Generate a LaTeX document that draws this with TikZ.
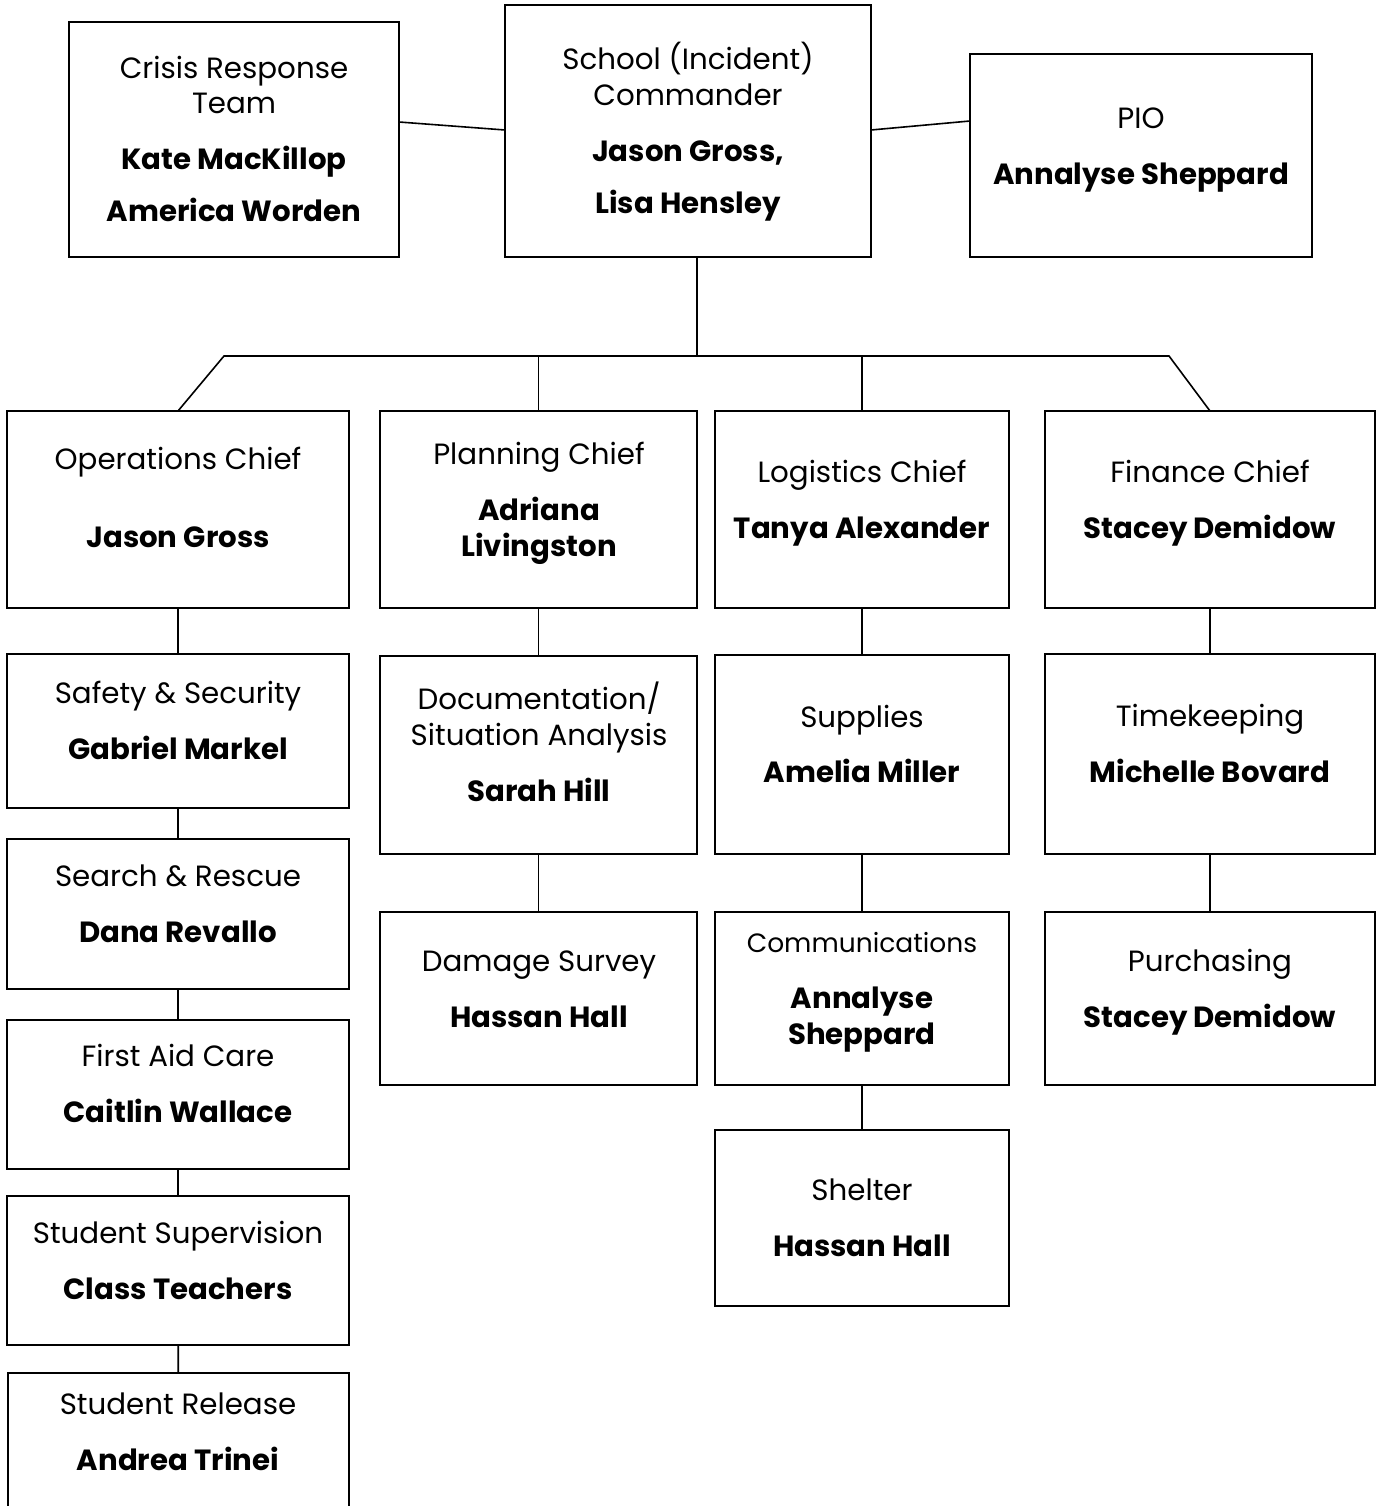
\documentclass[tikz,border=0pt]{standalone}
\usepackage{fontspec}
\setmainfont{Poppins}
\begin{document}
\begin{tikzpicture}[x=1pt,y=1pt,
  box/.style={draw=black, line width=2pt, rectangle, inner sep=0pt, outer sep=0pt, fill=white},
  conn/.style={draw=black, line width=1.6pt},
  prole/.style={anchor=base, inner sep=0pt, font=\fontsize{29.3}{34}\selectfont},
  psmall/.style={anchor=base, inner sep=0pt, font=\fontsize{26.5}{31}\selectfont},
  pname/.style={anchor=base, inner sep=0pt, font=\fontsize{29.2}{34}\selectfont\bfseries}]
\newcommand\bx[5]{\node[box, minimum width={(#4-#2)*1pt}, minimum height={(#5-#3)*1pt}] (#1) at ({(#2+#4)/2},{-(#3+#5)/2}) {};}
\newcommand\tx[5]{\node[#2] (#1) at (#3,{-(#4+10.5)}) {#5};}
\clip (0,0) rectangle (1378,-1506);
\fill[white] (0,0) rectangle (1378,-1506);
% coordinates of the bus
\coordinate (busL) at (224,-356);
\coordinate (busR) at (1169,-356);
% boxes
\bx{crisis}{69}{22}{399}{257}
\bx{cmd}{505}{5}{871}{257}
\bx{pio}{970}{54}{1312}{257}
\bx{ops}{7}{411}{349}{608}
\bx{plan}{380}{411}{697}{608}
\bx{log}{715}{411}{1009}{608}
\bx{fin}{1045}{411}{1375}{608}
\bx{safety}{7}{654}{349}{808}
\bx{search}{7}{839}{349}{989}
\bx{aid}{7}{1020}{349}{1169}
\bx{sup}{7}{1196}{349}{1345}
\bx{rel}{8}{1373}{349}{1520}
\bx{doc}{380}{656}{697}{854}
\bx{dmg}{380}{912}{697}{1085}
\bx{supp}{715}{655}{1009}{854}
\bx{comm}{715}{912}{1009}{1085}
\bx{shel}{715}{1130}{1009}{1306}
\bx{time}{1045}{654}{1375}{854}
\bx{purch}{1045}{912}{1375}{1085}
% connectors
\draw[conn] ([yshift=17.5pt]crisis.east) -- ([yshift=1pt]cmd.west);
\draw[conn] ([yshift=1pt]cmd.east) -- ([yshift=34.5pt]pio.west);
\draw[conn] ([xshift=9pt]cmd.south) -- ([xshift=9pt]cmd.south |- busL);
\draw[conn] (ops.north) -- (busL) -- (busR) -- (fin.north);
\draw[conn] (plan.north) -- (plan.north |- busL);
\draw[conn] (log.north) -- (log.north |- busL);
\draw[conn] (ops) -- (safety);
\draw[conn] (safety) -- (search);
\draw[conn] (search) -- (aid);
\draw[conn] (aid) -- (sup);
\draw[conn] (sup) -- (rel);
\draw[conn] (plan) -- (doc);
\draw[conn] (doc) -- (dmg);
\draw[conn] (log) -- (supp);
\draw[conn] (supp) -- (comm);
\draw[conn] (comm) -- (shel);
\draw[conn] (fin) -- (time);
\draw[conn] (time) -- (purch);
% texts
\tx{crisisA}{prole}{234}{68}{Crisis Response}
\tx{crisisB}{prole}{234}{103}{Team}
\tx{crisisC}{pname}{234}{159}{Kate MacKillop}
\tx{crisisD}{pname}{234}{211}{America Worden}
\tx{cmdA}{prole}{688}{59}{School (Incident)}
\tx{cmdB}{prole}{688}{95}{Commander}
\tx{cmdC}{pname}{688}{151}{Jason Gross,}
\tx{cmdD}{pname}{688}{203}{Lisa Hensley}
\tx{pioA}{prole}{1141}{118}{PIO}
\tx{pioB}{pname}{1141}{174}{Annalyse Sheppard}
\tx{opsA}{prole}{178}{459}{Operations Chief}
\tx{opsB}{pname}{178}{537}{Jason Gross}
\tx{planA}{prole}{539}{454}{Planning Chief}
\tx{planB}{pname}{539}{510}{Adriana}
\tx{planC}{pname}{539}{546}{Livingston}
\tx{logA}{prole}{862}{472}{Logistics Chief}
\tx{logB}{pname}{862}{528}{Tanya Alexander}
\tx{finA}{prole}{1210}{472}{Finance Chief}
\tx{finB}{pname}{1210}{528}{Stacey Demidow}
\tx{safetyA}{prole}{178}{693}{Safety \& Security}
\tx{safetyB}{pname}{178}{749}{Gabriel Markel}
\tx{docA}{prole}{539}{699}{Documentation/}
\tx{docB}{prole}{539}{735}{Situation Analysis}
\tx{docC}{pname}{539}{791}{Sarah Hill}
\tx{suppA}{prole}{862}{717}{Supplies}
\tx{suppB}{pname}{862}{772}{Amelia Miller}
\tx{timeA}{prole}{1210}{716}{Timekeeping}
\tx{timeB}{pname}{1210}{772}{Michelle Bovard}
\tx{searchA}{prole}{178}{876}{Search \& Rescue}
\tx{searchB}{pname}{178}{932}{Dana Revallo}
\tx{dmgA}{prole}{539}{961}{Damage Survey}
\tx{dmgB}{pname}{539}{1017}{Hassan Hall}
\tx{commA}{psmall}{862}{942}{Communications}
\tx{commB}{pname}{862}{998}{Annalyse}
\tx{commC}{pname}{862}{1034}{Sheppard}
\tx{purchA}{prole}{1210}{961}{Purchasing}
\tx{purchB}{pname}{1210}{1017}{Stacey Demidow}
\tx{aidA}{prole}{178}{1056}{First Aid Care}
\tx{aidB}{pname}{178}{1112}{Caitlin Wallace}
\tx{shelA}{prole}{862}{1190}{Shelter}
\tx{shelB}{pname}{862}{1246}{Hassan Hall}
\tx{supA}{prole}{178}{1233}{Student Supervision}
\tx{supB}{pname}{178}{1289}{Class Teachers}
\tx{relA}{prole}{178}{1404}{Student Release}
\tx{relB}{pname}{178}{1460}{Andrea Trinei}
\end{tikzpicture}
\end{document}
